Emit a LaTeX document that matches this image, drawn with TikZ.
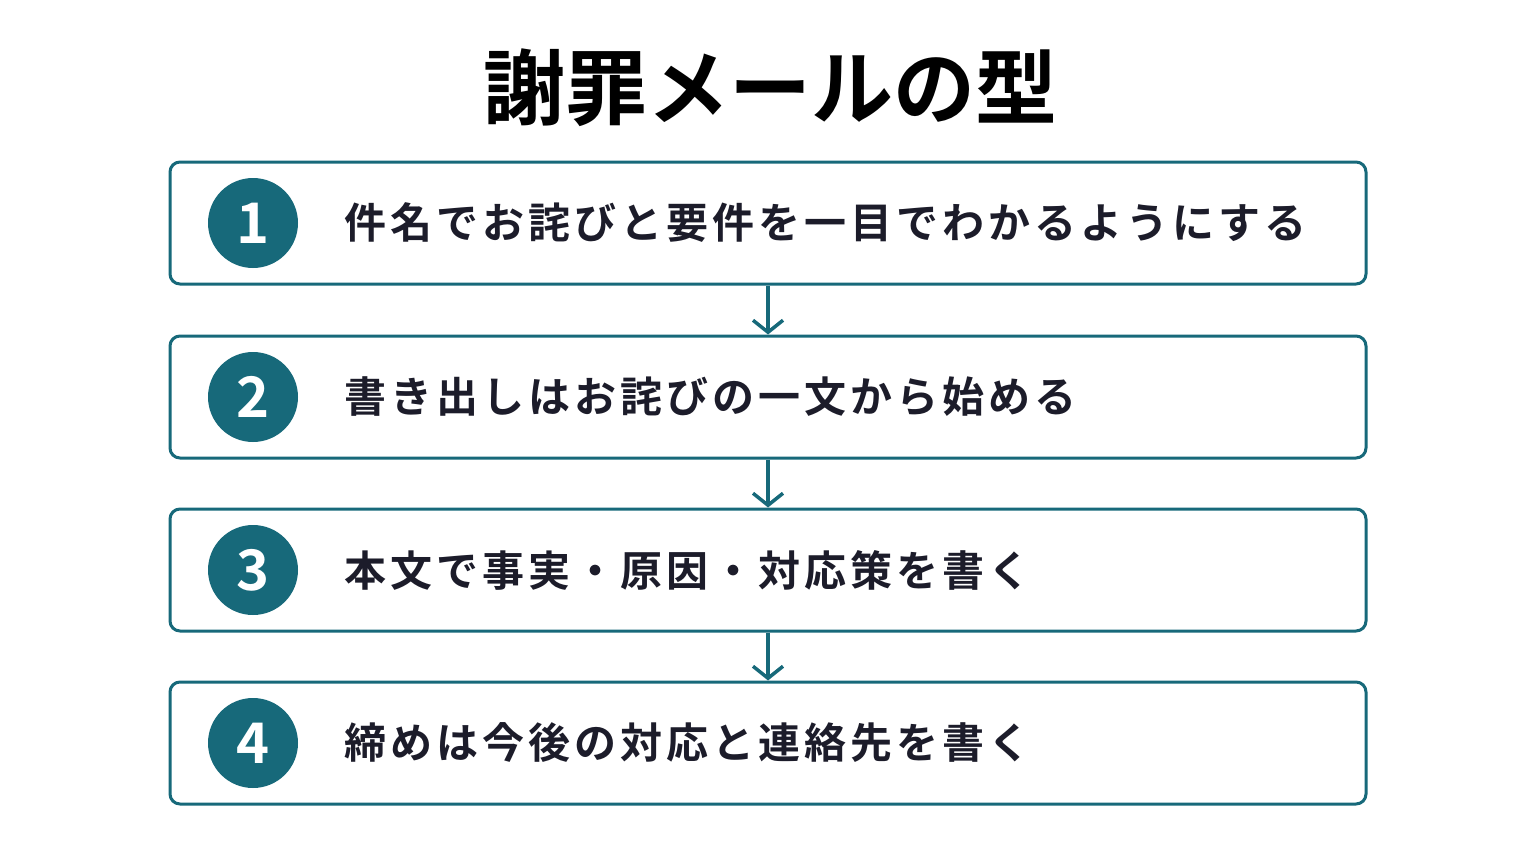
\documentclass[tikz,border=0pt]{standalone}
\usepackage{fontspec}
\newfontfamily\cjk{Noto Sans CJK JP}[BoldFont={Noto Sans CJK JP Bold}]
\newfontfamily\cjksp{Noto Sans CJK JP}[BoldFont={Noto Sans CJK JP Bold},LetterSpace=9.5]
\usetikzlibrary{arrows.meta}
\definecolor{teal}{HTML}{17697A}
\definecolor{ink}{HTML}{1C1C2A}
\begin{document}
\begin{tikzpicture}[x=1pt,y=-1pt,
 box/.style={draw=teal,line width=3pt,rounded corners=10pt,minimum width=1196pt,minimum height=122pt,inner sep=0pt},
 num/.style={circle,fill=teal,minimum size=90pt,inner sep=0pt,text=white,font=\cjk\bfseries\fontsize{56}{56}\selectfont},
 lbl/.style={anchor=west,text=ink,font=\cjksp\bfseries\fontsize{42}{42}\selectfont},
 arr/.style={draw=teal,line width=3.5pt,-{Straight Barb[length=12pt,width=30pt,line width=3.5pt]}}]
\useasboundingbox (0,0) rectangle (1536,864);
\fill[white] (0,0) rectangle (1536,864);
\node[text=black,font=\cjk\bfseries\fontsize{82}{82}\selectfont] (t) at (770,88) {謝罪メールの型};
\foreach \i/\y/\s in {1/223/件名でお詫びと要件を一目でわかるようにする,2/397/書き出しはお詫びの一文から始める,3/570/本文で事実・原因・対応策を書く,4/743/締めは今後の対応と連絡先を書く}{
 \node[box] (b\i) at (768,\y) {};
 \node[num] (n\i) at (253,\y) {\i};
 \node[lbl] (l\i) at (341,\y) {\s};
}
\draw[arr] (b1.south) -- (b2.north);
\draw[arr] (b2.south) -- (b3.north);
\draw[arr] (b3.south) -- (b4.north);
\end{tikzpicture}
\end{document}
